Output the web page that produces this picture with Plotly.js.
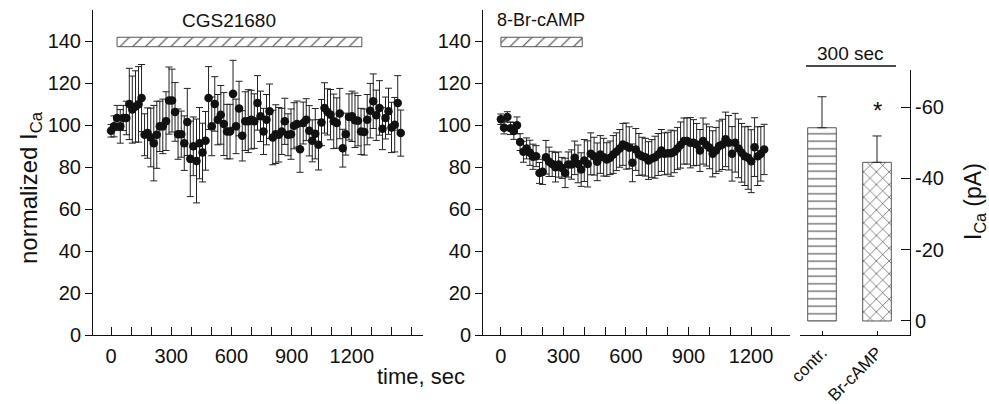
<!DOCTYPE html>
<html>
<head>
<meta charset="utf-8">
<script src="https://cdn.plot.ly/plotly-3.0.1.min.js"></script>
<style>html,body{margin:0;padding:0;background:#fff;}#chart{width:989px;height:404px;}</style>
</head>
<body>
<div id="chart"></div>
<script>
// ---- data ----
const timeCgs = [0,15,30,46,61,76,91,106,122,137,152,167,182,198,213,228,243,258,274,289,304,319,334,350,365,380,395,410,426,441,456,471,486,502,517,532,547,562,578,593,608,623,638,654,669,684,699,714,730,745,760,775,790,806,821,836,851,866,882,897,912,927,942,958,973,988,1003,1018,1034,1049,1064,1079,1094,1110,1125,1140,1155,1170,1186,1201,1216,1231,1246,1262,1277,1292,1307,1322,1338,1353,1368,1383,1398,1414,1429,1444];
const normCgs = [97.4,99.5,103.5,99.5,103.5,103.5,110.2,107.5,109,110,
113,95.5,96.3,94.2,91.5,95.5,99.5,99.5,102,111.8,
111.8,106.4,95.8,95.8,91.5,101.6,84,90,83,91.5,
87,92.6,113,99.5,110.2,102.7,105,100.6,97,97,
115,99.5,108,95,102,102,102.7,102,110.7,104.3,
97.1,102.7,106.7,94.2,95.8,95.5,97.1,101.9,95.5,95.8,
99.8,100.6,88.6,101.1,102.7,97.4,92.6,96,90.7,101.3,
108.3,106.4,105.1,101.9,101.1,105.6,89.1,95.8,104,104.3,
102.4,102.2,97.1,96.8,102.7,107,111.5,104.8,108.3,98.4,
103.5,106.7,99,100.3,110.7,96.3];
const semCgs = [3,5,6,8,6,8,17,16,17,18,
16,10,12,14,18,16,12,13,14,16,
15,14,12,11,13,16,18,14,20,17,
14,14,15,14,13,12,14,15,13,13,
16,13,13,12,14,15,14,13,13,12,
11,12,13,13,14,13,11,11,10,12,
11,11,11,10,10,12,10,12,12,11,
12,11,12,13,12,12,9,10,11,12,
13,12,11,11,12,13,13,12,13,10,
10,11,12,13,13,11];

const timeBr = [0,15,31,46,62,77,92,108,123,139,154,169,185,200,216,231,246,262,277,293,308,323,339,354,370,385,400,416,431,447,462,477,493,508,524,539,554,570,585,601,616,631,647,662,678,693,708,724,739,755,770,785,801,816,832,847,862,878,893,909,924,939,955,970,986,1001,1016,1032,1047,1063,1078,1093,1109,1124,1140,1155,1170,1186,1201,1217,1232,1247,1263];
const normBr = [102.9,98.9,104,98.6,97.3,100,92,87.4,89,86.9,
85,85.3,77.3,77.8,84.8,82.6,81.6,80,81.3,79.7,
77.3,81.3,81.3,84.5,81.6,78.9,83.2,81.6,86.4,85.3,
82.6,86.1,84.8,83.7,84.5,86.1,87.4,89,90.9,90.1,
89.3,82.1,88.5,86.1,85.3,84.8,83.2,84.2,84.8,86.1,
88,86.4,86.7,86.7,87.4,89,90.6,92.5,92.5,91.7,
91.7,90.9,88,92.5,90.6,89.3,86.4,88,90.1,90.9,
93.3,91.7,86.4,91.7,89,86.9,85.3,84.5,82.9,89.6,
85.3,86.4,88.5];
const semBr = [2.5,3,2.5,3,4,4,4,5,5,6,
6,5,5,6,8,7,6,7,6,5,
7,6,7,8,9,8,10,11,10,9,
9,9,9,8,8,9,9,9,10,11,
10,9,10,10,9,9,9,9,10,10,
10,10,10,11,10,10,11,11,11,12,
11,10,10,11,10,10,11,11,12,12,
13,13,13,14,14,14,14,15,15,14,
14,13,12];

const cgsPeriod = [30, 1250];
const brPeriod = [0, 390];
const periodY = [137.5, 142];

const barCats = ['contr.', 'Br-cAMP'];
const barVals = [-54.2, -44.5];
const barSem = [8.7, 7.4];

const xTickVals = [0,100,200,300,400,500,600,700,800,900,1000,1100,1200,1300,1400,1500];
const xTickLabelEvery = 300;
const yTickVals = [0,20,40,60,80,100,120,140];
const rightTickVals = [0,-20,-40,-60];

// ---- helpers ----
const FONT = 'Liberation Sans, Arial, Helvetica, sans-serif';
const W = 989, H = 404;
const px = v => v / W;
const py = v => (H - v) / H;

function rect(period, yy) {
  return {x: [period[0], period[1], period[1], period[0], period[0]],
          y: [yy[0], yy[0], yy[1], yy[1], yy[0]]};
}
function scatterTrace(t, v, e, xa, ya) {
  return {
    type: 'scatter', mode: 'markers', x: t, y: v, xaxis: xa, yaxis: ya,
    marker: {color: '#111', size: 8.5},
    error_y: {type: 'data', array: e, visible: true, color: '#222', thickness: 1, width: 3.5},
    hoverinfo: 'skip', showlegend: false, cliponaxis: false
  };
}
function periodTrace(period, xa, ya) {
  const r = rect(period, periodY);
  return {
    type: 'scatter', mode: 'lines', x: r.x, y: r.y, xaxis: xa, yaxis: ya,
    fill: 'toself', fillcolor: '#fff',
    fillpattern: {shape: '/', size: 9, solidity: 0.12, fgcolor: '#444', bgcolor: '#fff'},
    line: {color: '#555', width: 1}, hoverinfo: 'skip', showlegend: false
  };
}

const traces = [
  periodTrace(cgsPeriod, 'x', 'y'),
  scatterTrace(timeCgs, normCgs, semCgs, 'x', 'y'),
  periodTrace(brPeriod, 'x2', 'y2'),
  scatterTrace(timeBr, normBr, semBr, 'x2', 'y2'),
  {
    type: 'bar', x: [0, 1], y: barVals, xaxis: 'x3', yaxis: 'y3', width: 0.52,
    marker: {
      color: '#fff',
      line: {color: '#555', width: 1},
      pattern: {shape: ['-', 'x'], size: [7.5, 9], solidity: 0.12, fgcolor: '#222', bgcolor: '#fff', fillmode: 'replace'}
    },
    error_y: {type: 'data', symmetric: false, array: [0, 0], arrayminus: barSem, visible: true, color: '#222', thickness: 1, width: 4.5},
    hoverinfo: 'skip', showlegend: false
  }
];

const tickFont = {family: FONT, size: 20, color: '#111'};
const xTickText = xTickVals.map(v => (v % xTickLabelEvery === 0 && v <= 1200) ? String(v) : '');
const yTickText = yTickVals.map(String);

const common = {showline: true, linecolor: '#111', linewidth: 1, showgrid: false, zeroline: false, tickfont: tickFont, tickcolor: '#111'};

const xBase = Object.assign({}, common, {tickmode: 'array', tickvals: xTickVals, ticktext: xTickText, ticks: 'inside', ticklen: 8, ticklabelstandoff: 3});
const yBase = Object.assign({}, common, {tickmode: 'array', tickvals: yTickVals, ticktext: yTickText, ticks: 'outside', ticklen: 7, range: [0, 155]});

function ann(text, x, y, size, extra) {
  return Object.assign({text: text, xref: 'paper', yref: 'paper', x: x, y: y, xanchor: 'center', yanchor: 'middle',
    showarrow: false, font: {family: FONT, size: size, color: '#111'}}, extra || {});
}

const layout = {
  width: W, height: H, margin: {l: 0, r: 0, t: 0, b: 0},
  paper_bgcolor: '#fff', plot_bgcolor: '#fff',
  font: {family: FONT, color: '#111'},
  xaxis: Object.assign({}, xBase, {domain: [px(93), px(423)], range: [-90, 1555], anchor: 'y'}),
  yaxis: Object.assign({}, yBase, {domain: [py(335), py(10)], anchor: 'x'}),
  xaxis2: Object.assign({}, xBase, {domain: [px(483), px(790)], range: [-86, 1387], anchor: 'y2'}),
  yaxis2: Object.assign({}, yBase, {domain: [py(335), py(10)], anchor: 'x2'}),
  xaxis3: Object.assign({}, common, {domain: [px(800), px(910)], range: [-0.4, 1.6], anchor: 'y3',
    tickmode: 'array', tickvals: [0, 1], ticktext: barCats, ticks: 'inside', ticklen: 4, tickangle: -45,
    tickfont: {family: FONT, size: 17, color: '#111'}}),
  yaxis3: Object.assign({}, common, {domain: [py(335), py(70)], range: [3.93, -70.4], anchor: 'x3', side: 'right',
    tickmode: 'array', tickvals: rightTickVals, ticktext: rightTickVals.map(v => v === 0 ? '0' : '-' + Math.abs(v)),
    ticks: 'inside', ticklen: 9}),
  shapes: [
    {type: 'line', xref: 'paper', yref: 'paper', x0: px(806), x1: px(896), y0: py(66), y1: py(66), line: {color: '#111', width: 1.3}}
  ],
  annotations: [
    ann('CGS21680', px(229), py(20), 19),
    ann('8-Br-cAMP', px(495), py(20), 18, {xanchor: 'left'}),
    ann('300 sec', px(850), py(53), 19),
    ann('*', 1, py(110), 24, {xref: 'x3'}),
    ann('time, sec', px(421), py(376), 22),
    ann('normalized I<sub>Ca</sub>', px(30), py(188), 24, {textangle: -90}),
    ann('I<sub>Ca</sub> (pA)', px(974), py(202), 23, {textangle: -90})
  ]
};

Plotly.newPlot('chart', traces, layout, {staticPlot: true, displayModeBar: false});
</script>
</body>
</html>
